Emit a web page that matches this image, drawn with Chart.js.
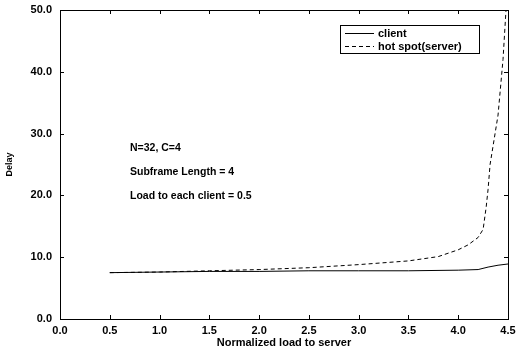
<!DOCTYPE html>
<html>
<head>
<meta charset="utf-8">
<script src="https://cdn.jsdelivr.net/npm/chart.js@4/dist/chart.umd.min.js"></script>
<style>
  html, body { margin: 0; padding: 0; background: #fff; }
  #wrap { width: 516px; height: 350px; }
</style>
</head>
<body>
<div id="wrap"><canvas id="delayChart"></canvas></div>
<script>
// values
const clientLoad = [0.5, 1.0, 1.5, 2.0, 2.5, 3.0, 3.5, 4.0, 4.2, 4.3, 4.4, 4.5];
const clientDelay = [7.5, 7.6, 7.7, 7.7, 7.8, 7.8, 7.8, 7.9, 8.0, 8.4, 8.7, 8.9];

const serverLoad = [0.5, 1.0, 1.5, 2.0, 2.5, 3.0, 3.5, 3.8, 4.0, 4.1, 4.2, 4.25, 4.28, 4.3, 4.32, 4.4, 4.45, 4.48];
const serverDelay = [7.5, 7.6, 7.8, 8.0, 8.3, 8.8, 9.4, 10.1, 11.2, 12.0, 13.2, 14.5, 18.0, 21.0, 25.0, 33.0, 42.0, 50.0];

const xTicks = [0, 0.5, 1.0, 1.5, 2.0, 2.5, 3.0, 3.5, 4.0, 4.5];
const yTicks = [0, 10, 20, 30, 40, 50];

const notes = ['N=32, C=4', 'Subframe Length = 4', 'Load to each client = 0.5'];

const FONT = '"Liberation Sans", Arial, sans-serif';

const toPoints = (xs, ys) => xs.map((x, i) => ({ x: x, y: ys[i] }));

// frame, inward ticks, notes and legend box
const decorations = {
    id: 'decorations',
    afterDraw(chart) {
        const ctx = chart.ctx;
        const a = chart.chartArea;
        const xs = chart.scales.x;
        const ys = chart.scales.y;
        ctx.save();
        ctx.strokeStyle = '#000';
        ctx.lineWidth = 1;
        ctx.strokeRect(a.left + 0.5, a.top + 0.5, a.right - a.left, a.bottom - a.top);

        ctx.beginPath();
        xTicks.forEach(v => {
            const px = Math.round(xs.getPixelForValue(v)) + 0.5;
            ctx.moveTo(px, a.bottom); ctx.lineTo(px, a.bottom - 4);
            ctx.moveTo(px, a.top); ctx.lineTo(px, a.top + 4);
        });
        yTicks.forEach(v => {
            const py = Math.round(ys.getPixelForValue(v)) + 0.5;
            ctx.moveTo(a.left, py); ctx.lineTo(a.left + 4, py);
            ctx.moveTo(a.right, py); ctx.lineTo(a.right - 4, py);
        });
        ctx.stroke();

        ctx.fillStyle = '#000';
        ctx.font = 'bold 10.5px ' + FONT;
        ctx.textBaseline = 'middle';
        notes.forEach((t, i) => ctx.fillText(t, 130, 148 + i * 24));

        // legend
        const lx = 340, ly = 25, lw = 139, lh = 28;
        ctx.strokeRect(lx + 0.5, ly + 0.5, lw, lh);
        ctx.font = 'bold 11px ' + FONT;
        chart.data.datasets.forEach((ds, i) => {
            const y = ly + 8 + i * 13;
            ctx.beginPath();
            ctx.setLineDash(ds.borderDash || []);
            ctx.lineWidth = ds.borderWidth;
            ctx.moveTo(lx + 5, y + 0.5); ctx.lineTo(lx + 34, y + 0.5);
            ctx.stroke();
            ctx.setLineDash([]);
            ctx.fillText(ds.label, lx + 38, y + 1);
        });
        ctx.restore();
    }
};

new Chart(document.getElementById('delayChart'), {
    type: 'line',
    data: {
        datasets: [{
            label: 'client',
            data: toPoints(clientLoad, clientDelay),
            borderColor: '#000',
            borderWidth: 1,
            pointRadius: 0,
            tension: 0
        }, {
            label: 'hot spot(server)',
            data: toPoints(serverLoad, serverDelay),
            borderColor: '#000',
            borderWidth: 1,
            borderDash: [4, 3],
            pointRadius: 0,
            tension: 0
        }]
    },
    options: {
        responsive: true,
        maintainAspectRatio: false,
        animation: false,
        layout: { padding: { left: 4, right: 8, top: 10, bottom: 0 } },
        plugins: {
            legend: { display: false },
            tooltip: { enabled: false }
        },
        scales: {
            x: {
                type: 'linear',
                min: 0,
                max: 4.5,
                afterFit: s => { s.height = 31; s.paddingLeft = 0; s.paddingRight = 0; },
                afterBuildTicks: s => { s.ticks = xTicks.map(v => ({ value: v })); },
                grid: { display: false, drawTicks: false },
                border: { display: false },
                ticks: {
                    color: '#000',
                    padding: 5,
                    maxRotation: 0,
                    font: { family: FONT, size: 11, weight: 'bold' },
                    callback: v => v.toFixed(1)
                },
                title: {
                    display: true,
                    text: 'Normalized load to server',
                    color: '#000',
                    padding: { top: 0, bottom: 0 },
                    font: { family: FONT, size: 11, weight: 'bold' }
                }
            },
            y: {
                min: 0,
                max: 50,
                afterFit: s => { s.width = 56; s.paddingTop = 0; s.paddingBottom = 0; },
                afterBuildTicks: s => { s.ticks = yTicks.map(v => ({ value: v })); },
                grid: { display: false, drawTicks: false },
                border: { display: false },
                ticks: {
                    color: '#000',
                    padding: 8,
                    font: { family: FONT, size: 11, weight: 'bold' },
                    callback: v => v.toFixed(1)
                },
                title: {
                    display: true,
                    text: 'Delay',
                    color: '#000',
                    padding: { top: 0, bottom: 0 },
                    font: { family: FONT, size: 9, weight: 'bold' }
                }
            }
        }
    },
    plugins: [decorations]
});
</script>
</body>
</html>
